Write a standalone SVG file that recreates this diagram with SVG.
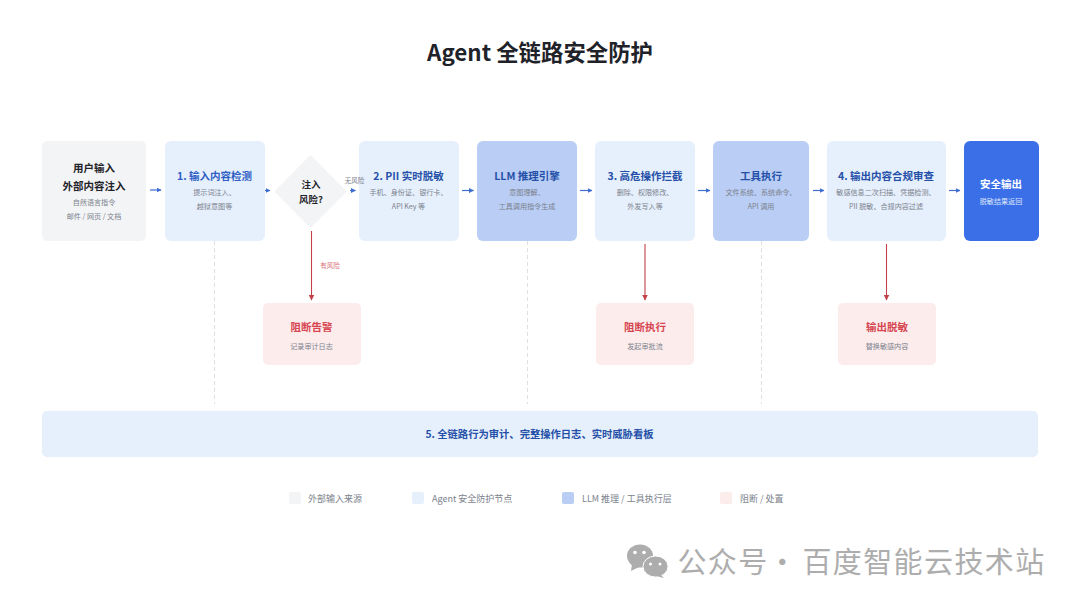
<svg xmlns="http://www.w3.org/2000/svg" width="1080" height="606" viewBox="0 0 1080 606">
<style>
text{font-family:"Noto Sans CJK SC","Noto Sans",sans-serif;text-anchor:middle}
.t{font-size:10.500px;font-weight:700}
.dk{fill:#1f2329}
.ti{fill:#2450a8}
.s{font-size:7.100px;fill:#7b828c}
.r{fill:#d64550;font-size:10.500px;font-weight:700}
.dash{stroke:#dfe0e2;stroke-width:1;stroke-dasharray:4 3;fill:none}
.blue{stroke:#3f6dd0;stroke-width:1.200;fill:none;marker-end:url(#ab)}
.red{stroke:#c2404a;stroke-width:1.100;fill:none;marker-end:url(#ar)}
.lg{font-size:9px;fill:#7b828c;text-anchor:start}
</style>
<defs>
<marker id="ab" markerWidth="5" markerHeight="5" refX="4.500" refY="2.500" orient="auto" markerUnits="userSpaceOnUse"><path d="M0 0L5 2.500L0 5z" fill="#3f6dd0"/></marker>
<marker id="ar" markerWidth="6" markerHeight="6" refX="5.500" refY="3" orient="auto" markerUnits="userSpaceOnUse"><path d="M0 0L6 3L0 6z" fill="#c2404a"/></marker>
</defs>
<rect width="1080" height="606" fill="#fff"/>
<text x="540" y="61" font-size="22.400" font-weight="700" fill="#1f2329">Agent 全链路安全防护</text>
<g id="connectors">
<path class="dash" d="M214.500 241V404M527.500 241V404M761.500 241V404"/>
<path class="blue" d="M150 190H161"/>
<path class="blue" d="M265 190.500H270"/>
<path class="blue" d="M350 190.500H355.500"/>
<path class="blue" d="M462 190.500H473.500"/>
<path class="blue" d="M580 190.500H592"/>
<path class="blue" d="M698 190.500H710"/>
<path class="blue" d="M813 190.500H824"/>
<path class="blue" d="M949 190.500H960"/>
<path class="red" d="M311.500 231V300"/>
<path class="red" d="M645 244V300"/>
<path class="red" d="M886.500 244V300"/>
</g>
<g id="n-input"><rect x="42" y="141" width="104" height="100" rx="5" fill="#f3f4f6"/><text class="t dk" x="94" y="171.500">用户输入</text><text class="t dk" x="94" y="189.500">外部内容注入</text><text class="s" x="94" y="205">自然语言指令</text><text class="s" x="94" y="219">邮件 / 网页 / 文档</text></g>
<g id="n-1"><rect x="165" y="141" width="100" height="100" rx="6" fill="#e6effc"/><text class="t" style="fill:#2f5ec4" x="214.500" y="180">1. 输入内容检测</text><text class="s" x="214.500" y="195">提示词注入、</text><text class="s" x="214.500" y="209">越狱意图等</text></g>
<g id="n-risk"><path d="M310.500 157L344.500 191.500L310.500 226L276.500 191.500Z" fill="#f3f4f6" stroke="#f3f4f6" stroke-width="3" stroke-linejoin="round"/><text class="t dk" style="font-size:9.500px" x="311" y="188">注入</text><text class="t dk" style="font-size:9.500px" x="311" y="203">风险?</text></g>
<g id="n-2"><rect x="359" y="141" width="100" height="100" rx="6" fill="#e6effc"/><text class="t ti" x="408.500" y="180">2. PII 实时脱敏</text><text class="s" x="408.500" y="195">手机、身份证、银行卡、</text><text class="s" x="408.500" y="209">API Key 等</text></g>
<g id="n-llm"><rect x="477" y="141" width="100" height="100" rx="6" fill="#b9cdf5"/><text class="t ti" x="527" y="180">LLM 推理引擎</text><text class="s" x="527" y="195">意图理解、</text><text class="s" x="527" y="209">工具调用指令生成</text></g>
<g id="n-3"><rect x="595" y="141" width="100" height="100" rx="6" fill="#e6effc"/><text class="t ti" x="645" y="180">3. 高危操作拦截</text><text class="s" x="645" y="195">删除、权限修改、</text><text class="s" x="645" y="209">外发写入等</text></g>
<g id="n-tool"><rect x="713" y="141" width="96" height="100" rx="6" fill="#b9cdf5"/><text class="t ti" x="761" y="180">工具执行</text><text class="s" x="761" y="195">文件系统、系统命令、</text><text class="s" x="761" y="209">API 调用</text></g>
<g id="n-4"><rect x="827" y="141" width="119" height="100" rx="6" fill="#e6effc"/><text class="t ti" x="886" y="180">4. 输出内容合规审查</text><text class="s" x="886" y="195">敏感信息二次扫描、凭据检测、</text><text class="s" x="886" y="209">PII 脱敏、合规内容过滤</text></g>
<g id="n-out"><rect x="964" y="141" width="75" height="100" rx="6" fill="#3b6fe8"/><text class="t" style="fill:#fff" x="1001" y="187.500">安全输出</text><text class="s" style="fill:#dbe6fb" x="1001" y="204">脱敏结果返回</text></g>
<g id="n-b1"><rect x="263" y="303" width="98" height="62" rx="5" fill="#fcecec"/><text class="r" x="311.500" y="331">阻断告警</text><text class="s" x="311.500" y="349">记录审计日志</text></g>
<g id="n-b2"><rect x="596" y="303" width="98" height="62" rx="5" fill="#fcecec"/><text class="r" x="645" y="331">阻断执行</text><text class="s" x="645" y="349">发起审批流</text></g>
<g id="n-b3"><rect x="838" y="303" width="98" height="62" rx="5" fill="#fcecec"/><text class="r" x="887" y="331">输出脱敏</text><text class="s" x="887" y="349">替换敏感内容</text></g>
<g id="n-5"><rect x="42" y="411" width="996" height="46" rx="5" fill="#e6effc"/><text class="t ti" style="font-size:10.300px" x="539.500" y="438">5. 全链路行为审计、完整操作日志、实时威胁看板</text></g>
<g id="edge-labels">
<text x="354.500" y="183" font-size="6.500" fill="#7b828c">无风险</text>
<text x="330" y="268" font-size="6.500" fill="#d9727a">有风险</text>
</g>
<g id="legend">
<rect x="289" y="492" width="12" height="12" rx="2" fill="#f3f4f6"/><text class="lg" x="308" y="502">外部输入来源</text>
<rect x="412" y="492" width="12" height="12" rx="2" fill="#e6effc"/><text class="lg" x="432" y="502">Agent 安全防护节点</text>
<rect x="562" y="492" width="12" height="12" rx="2" fill="#b9cdf5"/><text class="lg" x="582" y="502">LLM 推理 / 工具执行层</text>
<rect x="720" y="492" width="12" height="12" rx="2" fill="#fcecec"/><text class="lg" x="740" y="502">阻断 / 处置</text>
</g>
<g id="watermark" fill="#adadad">
<ellipse cx="640" cy="556" rx="13" ry="11.500"/><path d="M632 564l-1 7 8-4z"/>
<ellipse cx="655.500" cy="566.500" rx="12.500" ry="10.500" stroke="#fff"/><path d="M660 574l4 4-8-2z"/>
<circle cx="635" cy="552.500" r="1.800" fill="#fff"/><circle cx="644" cy="552.500" r="1.800" fill="#fff"/><circle cx="650.500" cy="564" r="1.500" fill="#fff"/><circle cx="660" cy="564" r="1.500" fill="#fff"/>
<g font-size="29" style="letter-spacing:1.400px">
<text x="723" y="573">公众号</text>
<text x="783" y="573">·</text>
<text x="924" y="573">百度智能云技术站</text>
</g>
</g>
</svg>
